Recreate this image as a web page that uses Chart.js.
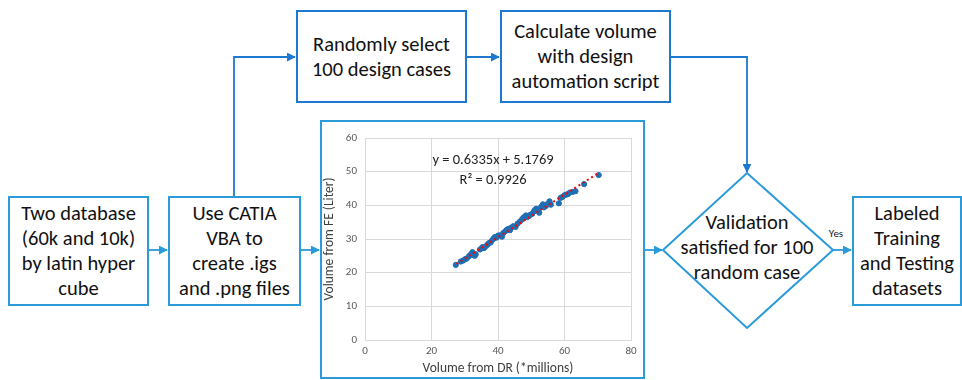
<!DOCTYPE html>
<html>
<head>
<meta charset="utf-8">
<script src="https://cdn.jsdelivr.net/npm/chart.js@4/dist/chart.umd.min.js"></script>
<style>
  body { margin: 0; background: #fff; width: 962px; height: 380px; overflow: hidden; position: relative;
         font-family: Carlito, Lato, "Open Sans", sans-serif; color: #111; }
  .box { position: absolute; box-sizing: border-box; border: 2px solid #2a9ad8; display: flex;
         align-items: center; justify-content: center; text-align: center; font-size: 20.5px; line-height: 25px; }
  .dark { border-color: #1f78d0; }
  #frame { position: absolute; left: 320px; top: 120px; width: 325px; height: 259px; box-sizing: border-box;
           border: 2px solid #2a9ad8; }
  #wrap { position: absolute; left: 0; top: 0; width: 321px; height: 255px; }
  svg { position: absolute; left: 0; top: 0; }
  .txt { position: absolute; text-align: center; font-size: 20.5px; line-height: 25px; }
</style>
</head>
<body>
<svg width="962" height="380">
  <defs>
    <marker id="hd" viewBox="0 0 10 10" refX="9" refY="5" markerWidth="5" markerHeight="5" orient="auto">
      <path d="M0,0 L10,5 L0,10 z" fill="#1f78d0"/>
    </marker>
    <marker id="hl" viewBox="0 0 10 10" refX="9" refY="5" markerWidth="5" markerHeight="5" orient="auto">
      <path d="M0,0 L10,5 L0,10 z" fill="#2a9ad8"/>
    </marker>
  </defs>
  <g fill="none" stroke-width="1.8">
    <path d="M148,250 L167,250" stroke="#2a9ad8" marker-end="url(#hl)"/>
    <path d="M300,250 L319,250" stroke="#2a9ad8" marker-end="url(#hl)"/>
    <path d="M234,196 L234,57 L295,57" stroke="#1f78d0" marker-end="url(#hd)"/>
    <path d="M466,57 L499,57" stroke="#1f78d0" marker-end="url(#hd)"/>
    <path d="M670,57 L747,57 L747,172" stroke="#1f78d0" marker-end="url(#hd)"/>
    <path d="M645,250 L662,250" stroke="#2a9ad8" marker-end="url(#hl)"/>
    <path d="M833,250 L851,250" stroke="#2a9ad8" marker-end="url(#hl)"/>
    <polygon points="747,173 833,250 747,328 663,250" stroke="#2a9ad8" stroke-width="2"/>
  </g>
  <text x="836" y="237" font-size="11" fill="#222" font-family="Carlito, Lato, sans-serif" text-anchor="middle">Yes</text>
</svg>

<div class="box" style="left:8px;top:196px;width:141px;height:110px;">Two database<br>(60k and 10k)<br>by latin hyper<br>cube</div>
<div class="box" style="left:168px;top:196px;width:133px;height:110px;">Use CATIA<br>VBA to<br>create .igs<br>and .png files</div>
<div class="box dark" style="left:296px;top:10px;width:171px;height:93px;">Randomly select<br>100 design cases</div>
<div class="box dark" style="left:500px;top:10px;width:171px;height:93px;">Calculate volume<br>with design<br>automation script</div>
<div class="box" style="left:852px;top:196px;width:110px;height:110px;">Labeled<br>Training<br>and Testing<br>datasets</div>
<div class="txt" style="left:662px;top:210px;width:170px;">Validation<br>satisfied for 100<br>random case</div>

<div id="frame"><div id="wrap"><canvas id="c"></canvas></div></div>

<script>
// volume from DR (*millions) vs volume from FE (Liter)
const drVolume = [27.3, 28.8, 29.5, 30.1, 30.6, 31.2, 31.6, 32.0, 32.3, 32.6, 33.0, 33.3, 34.6, 35.3, 35.8,
  36.4, 36.9, 37.3, 37.8, 38.2, 38.7, 39.1, 39.5, 40.0, 40.5, 41.2, 41.6, 42.2, 42.6, 43.1, 43.6, 44.0,
  44.6, 45.3, 45.9, 46.6, 47.2, 47.6, 48.0, 48.4, 48.8, 49.3, 49.7, 50.3, 50.8, 51.1, 51.5, 52.0, 52.4,
  53.0, 53.5, 53.8, 54.4, 55.0, 55.5, 55.9, 58.3, 58.8, 59.4, 60.0, 60.5, 61.0, 61.6, 62.5, 63.3, 65.9, 70.3];
const feVolume = [22.3, 23.3, 23.6, 24.0, 24.2, 24.8, 25.2, 25.6, 26.1, 25.3, 25.0, 25.5, 26.9, 27.6, 27.3,
  27.9, 28.4, 28.8, 29.0, 29.6, 30.2, 30.6, 30.4, 31.0, 31.1, 30.7, 31.8, 32.3, 32.7, 33.0, 32.6, 33.4,
  33.8, 33.6, 34.6, 35.2, 35.8, 36.3, 36.6, 37.0, 36.5, 36.8, 37.2, 37.5, 38.2, 38.6, 39.0, 38.4, 37.8,
  39.6, 40.3, 39.4, 39.8, 40.5, 41.2, 40.2, 40.6, 42.2, 42.5, 43.0, 43.2, 43.3, 43.8, 44.0, 44.2, 46.3, 49.0];
// linear trendline end points
const trendX = [27.5, 70.5];
const trendY = [22.6, 49.8];
const equation = ['y = 0.6335x + 5.1769', 'R² = 0.9926'];
const xTicks = [0, 20, 40, 60, 80];
const yTicks = [0, 10, 20, 30, 40, 50, 60];

const pts = drVolume.map((x, i) => ({ x: x, y: feVolume[i] }));
const trend = trendX.map((x, i) => ({ x: x, y: trendY[i] }));

const eqLabel = {
  id: 'eqLabel',
  afterDraw(chart) {
    const c = chart.ctx, xs = chart.scales.x, ys = chart.scales.y;
    c.save();
    c.fillStyle = '#222';
    c.font = '14.5px Carlito, Lato, sans-serif';
    c.textAlign = 'center';
    c.textBaseline = 'middle';
    c.fillText(equation[0], xs.getPixelForValue(38.5), ys.getPixelForValue(53.5));
    c.fillText(equation[1], xs.getPixelForValue(38.5), ys.getPixelForValue(47.3));
    c.restore();
  }
};

new Chart(document.getElementById('c'), {
  type: 'scatter',
  data: {
    datasets: [
      { data: trend, type: 'line', borderColor: '#ff0000', borderWidth: 2, borderDash: [2, 3],
        pointRadius: 0, fill: false, order: 0 },
      { data: pts, backgroundColor: '#1f6fb4', borderColor: '#1f6fb4', pointRadius: 2.6, order: 1 }
    ]
  },
  options: {
    responsive: true,
    maintainAspectRatio: false,
    animation: false,
    layout: { padding: { left: 0, right: 12, top: 16, bottom: 0 } },
    plugins: { legend: { display: false }, tooltip: { enabled: false } },
    scales: {
      x: {
        type: 'linear', min: 0, max: 80,
        afterBuildTicks: s => { s.ticks = xTicks.map(v => ({ value: v })); },
        afterFit: s => { s.height = 37; },
        grid: { color: '#d9d9d9', drawTicks: false },
        border: { color: '#d9d9d9' },
        ticks: { color: '#595959', font: { size: 11, family: 'Carlito, Lato, sans-serif' }, padding: 5 },
        title: { display: true, text: 'Volume from DR (*millions)', color: '#404040', padding: 0,
                 font: { size: 13.5, family: 'Carlito, Lato, sans-serif' } }
      },
      y: {
        min: 0, max: 60,
        afterBuildTicks: s => { s.ticks = yTicks.map(v => ({ value: v })); },
        afterFit: s => { s.width = 43; },
        grid: { color: '#d9d9d9', drawTicks: false },
        border: { color: '#d9d9d9' },
        ticks: { color: '#595959', font: { size: 11, family: 'Carlito, Lato, sans-serif' }, padding: 8 },
        title: { display: true, text: 'Volume from FE (Liter)', color: '#404040', padding: 0,
                 font: { size: 13.5, family: 'Carlito, Lato, sans-serif' } }
      }
    }
  },
  plugins: [eqLabel]
});
</script>
</body>
</html>
